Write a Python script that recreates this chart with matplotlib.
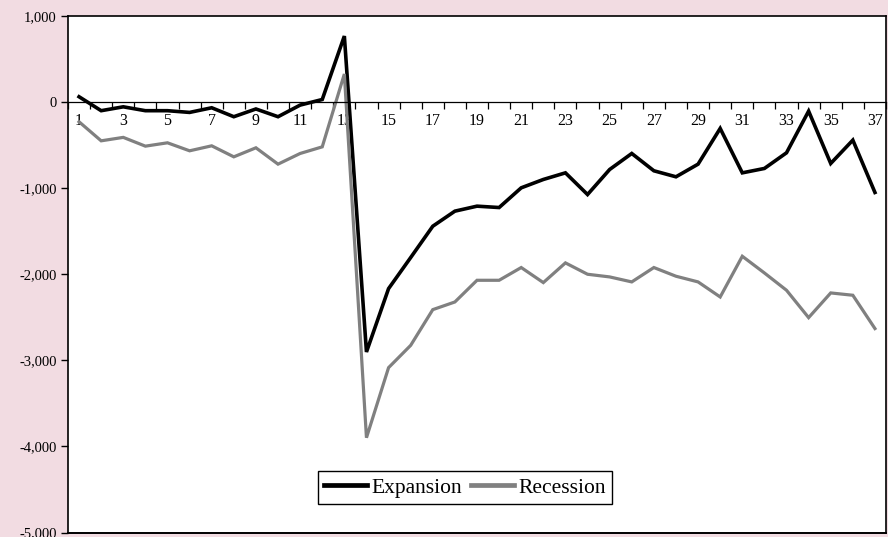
"""Expansion vs recession responses over 37 periods, Excel-style line chart."""

import matplotlib

matplotlib.use("Agg")
import matplotlib.pyplot as plt
from matplotlib.ticker import FixedLocator, FuncFormatter

PINK = "#F2DCE2"
GREY = "#808080"

PERIODS = list(range(1, 38))
EXPANSION = [62, -100, -55, -100, -100, -120, -66, -170, -80, -170,
             -35, 30, 767, -2903, -2167, -1806, -1442, -1267, -1209, -1225,
             -996, -899, -822, -1074, -783, -597, -798, -868, -721, -306,
             -822, -771, -589, -105, -713, -442, -1050]
RECESSION = [-229, -450, -410, -512, -473, -566, -508, -636, -531, -721,
             -597, -520, 326, -3899, -3085, -2826, -2411, -2322, -2070, -2070,
             -1922, -2097, -1868, -2000, -2031, -2089, -1922, -2023, -2089, -2264,
             -1791, -1985, -2186, -2504, -2217, -2244, -2631]
Y_TICKS = [1000, 0, -1000, -2000, -3000, -4000, -5000]

plt.rcParams["font.family"] = ["Liberation Serif", "DejaVu Serif"]
plt.rcParams["axes.unicode_minus"] = False

fig = plt.figure(figsize=(8.88, 5.37), dpi=100, facecolor=PINK)
ax = fig.add_axes([68 / 888, 4.5 / 537, 818 / 888, 516.5 / 537])
ax.set_facecolor("white")

ax.plot(PERIODS, EXPANSION, color="black", lw=2.6, label="Expansion",
        solid_joinstyle="miter")
ax.plot(PERIODS, RECESSION, color=GREY, lw=2.3, label="Recession",
        solid_joinstyle="miter")

ax.set_xlim(0.5, len(PERIODS) + 0.5)
ax.set_ylim(Y_TICKS[-1], Y_TICKS[0])

# frame: left/top/right spines plus a bottom edge; x axis crosses at zero
for side in ("left", "top", "right"):
    ax.spines[side].set_color("black")
    ax.spines[side].set_linewidth(1.2)
ax.spines["bottom"].set_position(("data", 0))
ax.spines["bottom"].set_linewidth(0.9)
ax.plot([0, 1], [0, 0], transform=ax.transAxes, color="black", lw=1.4,
        clip_on=False)

ax.xaxis.set_major_locator(FixedLocator([p - 0.5 for p in PERIODS] + [PERIODS[-1] + 0.5]))
ax.xaxis.set_major_formatter(FuncFormatter(lambda v, _: ""))
ax.xaxis.set_minor_locator(FixedLocator(PERIODS[::2]))
ax.xaxis.set_minor_formatter(FuncFormatter(lambda v, _: f"{int(v)}"))
ax.tick_params(axis="x", which="major", direction="out", length=5, width=0.9)
ax.tick_params(axis="x", which="minor", length=0, pad=8, labelsize=11.5)

ax.yaxis.set_major_locator(FixedLocator(Y_TICKS))
ax.yaxis.set_major_formatter(FuncFormatter(lambda v, _: f"{v:,.0f}"))
ax.tick_params(axis="y", direction="out", length=5, width=1, pad=3,
               labelsize=10.5)

leg = ax.legend(loc="center", bbox_to_anchor=(0.485, 0.087), ncol=2,
                fontsize=15.5, frameon=True, fancybox=False, framealpha=1,
                edgecolor="black", handlelength=2.0, handletextpad=0.2,
                columnspacing=0.4, borderpad=0.3, borderaxespad=0)
leg.get_frame().set_linewidth(1.0)
for h in leg.get_lines():
    h.set_linewidth(3.4)

fig.savefig("out.png", dpi=100, facecolor=PINK)
